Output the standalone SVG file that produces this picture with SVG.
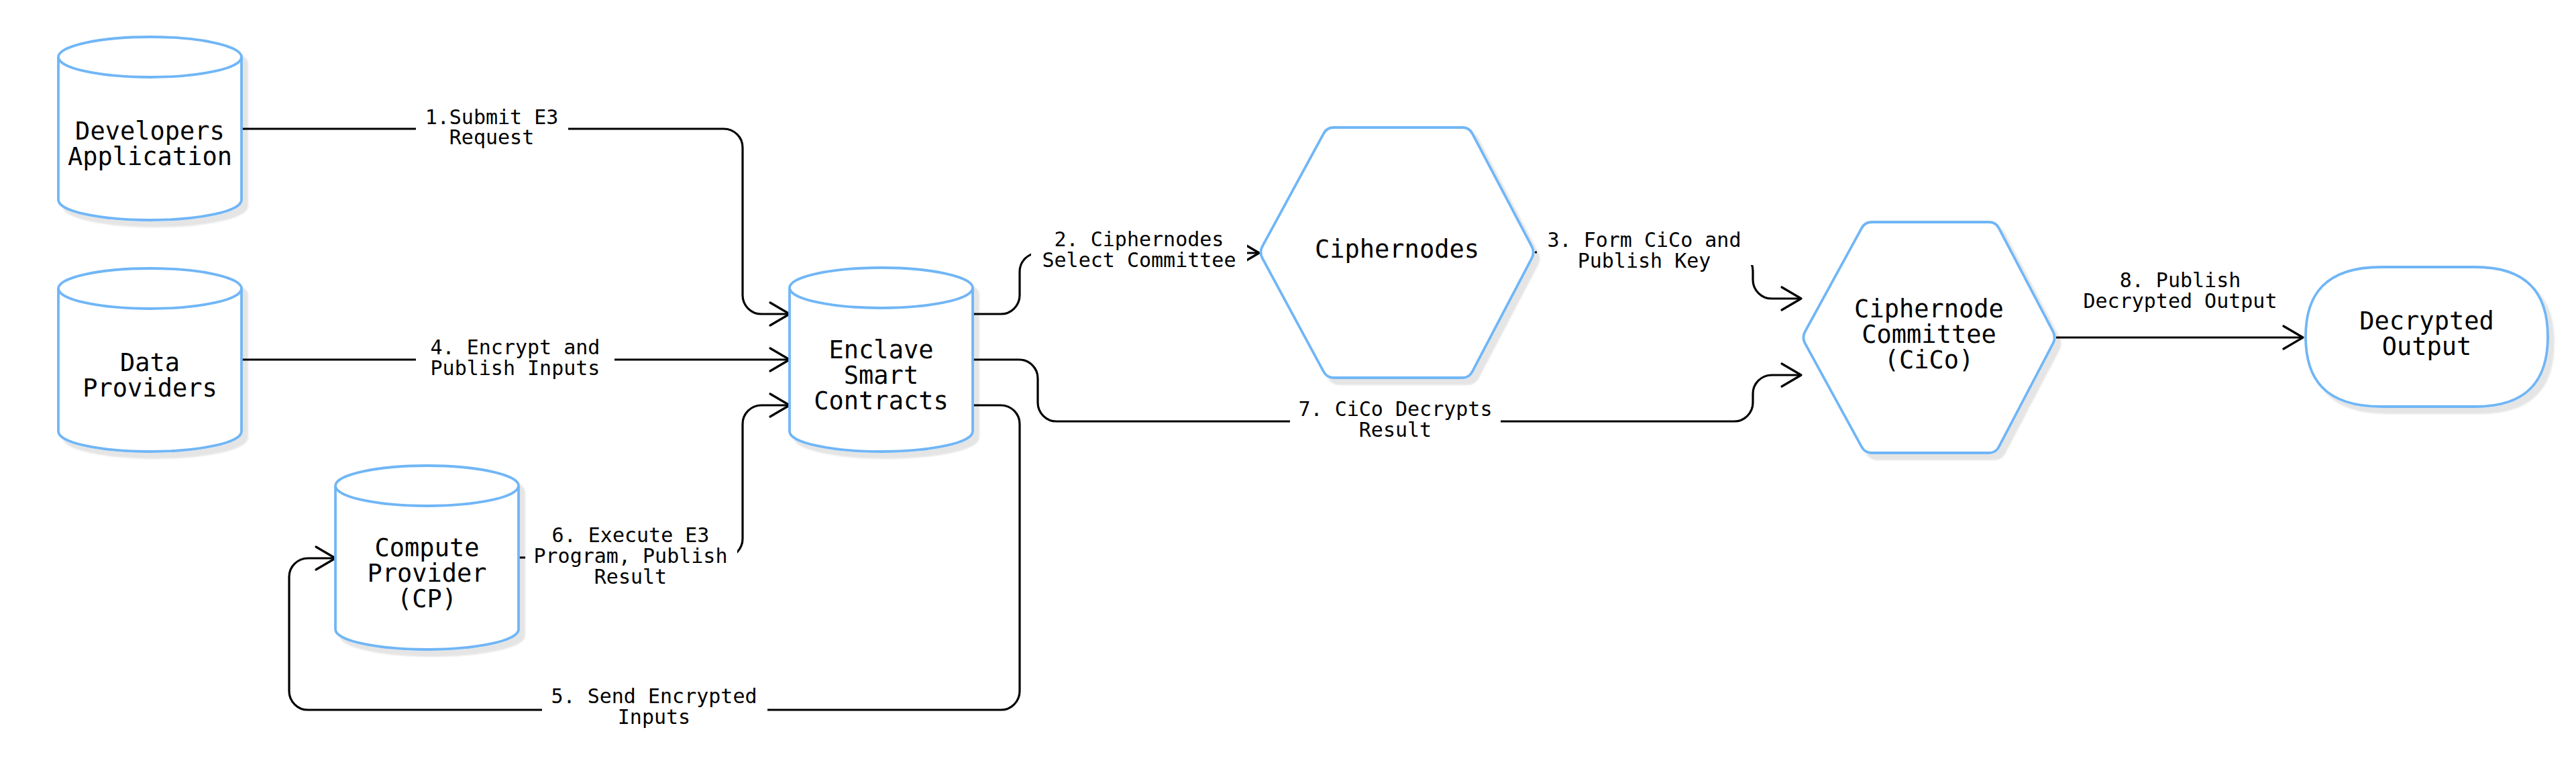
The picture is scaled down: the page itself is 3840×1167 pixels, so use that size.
<svg xmlns="http://www.w3.org/2000/svg" width="3840" height="1167" viewBox="0 0 3840 1167">
<style>
.shape{fill:#ffffff;stroke:#70b6f6;stroke-width:3.8;stroke-linejoin:round}
.sh{filter:url(#shadow)}
.ntxt{font-family:"DejaVu Sans Mono","Liberation Mono",monospace;font-size:37px;fill:#000;text-anchor:middle}
.ltxt{font-family:"DejaVu Sans Mono","Liberation Mono",monospace;font-size:30px;fill:#000;text-anchor:middle}
.edge{fill:none;stroke:#000;stroke-width:3.2;stroke-linejoin:round}
.arr{marker-end:url(#arrow)}
.lbg{fill:#ffffff}
</style>
<defs>
<filter id="shadow" x="-10%" y="-10%" width="130%" height="130%">
<feDropShadow dx="8" dy="9" stdDeviation="1.2" flood-color="#000" flood-opacity="0.1"/>
</filter>
<marker id="arrow" markerUnits="userSpaceOnUse" viewBox="-34 -22 40 44" markerWidth="40" markerHeight="44" refX="0" refY="0" orient="auto">
<path d="M-29,-17 L0,0 L-29,17" fill="none" stroke="#000" stroke-width="3.2" stroke-linecap="round" stroke-linejoin="round"/>
</marker>
</defs>
<rect width="3840" height="1167" fill="#ffffff"/>

<g id="connectors">
<path id="e1" class="edge arr" d="M360,192 H1079 A28,28 0 0 1 1107,220 V440 A28,28 0 0 0 1135,468 H1177"/>
<path id="e4" class="edge arr" d="M360,536 H1177"/>
<path id="e6" class="edge arr" d="M773,831 H1079 A28,28 0 0 0 1107,803 V632 A28,28 0 0 1 1135,604 H1177"/>
<path id="e5" class="edge arr" d="M1450,604 H1492 A28,28 0 0 1 1520,632 V1030 A28,28 0 0 1 1492,1058 H459 A28,28 0 0 1 431,1030 V860 A28,28 0 0 1 459,832 H500"/>
<path id="e2" class="edge arr" d="M1450,468 H1492 A28,28 0 0 0 1520,440 V405 A28,28 0 0 1 1548,377 H1877"/>
<path id="e3" class="edge arr" d="M2288,376 H2585 A28,28 0 0 1 2613,404 V417 A28,28 0 0 0 2641,445 H2685"/>
<path id="e7" class="edge arr" d="M1450,536 H1519 A28,28 0 0 1 1547,564 V600 A28,28 0 0 0 1575,628 H2585 A28,28 0 0 0 2613,600 V587 A28,28 0 0 1 2641,559 H2685"/>
<path id="e8" class="edge arr" d="M3065,503 H3433"/>

<g id="labels">
<rect class="lbg" x="620" y="159" width="227" height="63"/>
<text class="ltxt"><tspan x="733" y="185">1.Submit E3</tspan><tspan x="733" y="215">Request</tspan></text>
<rect class="lbg" x="620" y="502" width="296" height="64"/>
<text class="ltxt"><tspan x="768" y="528">4. Encrypt and</tspan><tspan x="768" y="559">Publish Inputs</tspan></text>
<rect class="lbg" x="783" y="782" width="316" height="96"/>
<text class="ltxt"><tspan x="940" y="808">6. Execute E3</tspan><tspan x="940" y="839">Program, Publish</tspan><tspan x="940" y="870">Result</tspan></text>
<rect class="lbg" x="808" y="1022" width="336" height="65"/>
<text class="ltxt"><tspan x="975" y="1048">5. Send Encrypted</tspan><tspan x="975" y="1079">Inputs</tspan></text>
<rect class="lbg" x="1537" y="341" width="322" height="65"/>
<text class="ltxt"><tspan x="1698" y="367">2. Ciphernodes</tspan><tspan x="1698" y="398">Select Committee</tspan></text>
<rect class="lbg" x="2291" y="342" width="323" height="53"/>
<text class="ltxt"><tspan x="2451" y="368">3. Form CiCo and</tspan><tspan x="2451" y="399">Publish Key</tspan></text>
<rect class="lbg" x="1923" y="594" width="314" height="64"/>
<text class="ltxt"><tspan x="2080" y="620">7. CiCo Decrypts</tspan><tspan x="2080" y="651">Result</tspan></text>
<text class="ltxt"><tspan x="3250" y="428">8. Publish</tspan><tspan x="3250" y="459">Decrypted Output</tspan></text>
</g>
</g>

<g id="developers">
<g class="sh"><path class="shape" d="M87,85 L87,298 A136.5,30 0 0 0 360,298 L360,85 A136.5,30 0 0 0 87,85 Z"/></g>
<path class="shape" style="fill:none" d="M87,85 A136.5,30 0 0 0 360,85"/>
<text class="ntxt"><tspan x="223.5" y="207.5">Developers</tspan><tspan x="223.5" y="245.5">Application</tspan></text>
</g>

<g id="data-providers">
<g class="sh"><path class="shape" d="M87,430 L87,643 A136.5,30 0 0 0 360,643 L360,430 A136.5,30 0 0 0 87,430 Z"/></g>
<path class="shape" style="fill:none" d="M87,430 A136.5,30 0 0 0 360,430"/>
<text class="ntxt"><tspan x="223.5" y="553">Data</tspan><tspan x="223.5" y="591">Providers</tspan></text>
</g>

<g id="enclave">
<g class="sh"><path class="shape" d="M1177,429 L1177,643 A136.5,30 0 0 0 1450,643 L1450,429 A136.5,30 0 0 0 1177,429 Z"/></g>
<path class="shape" style="fill:none" d="M1177,429 A136.5,30 0 0 0 1450,429"/>
<text class="ntxt"><tspan x="1313.5" y="533.5">Enclave</tspan><tspan x="1313.5" y="571.5">Smart</tspan><tspan x="1313.5" y="609.5">Contracts</tspan></text>
</g>

<g id="compute-provider">
<g class="sh"><path class="shape" d="M500,724 L500,938 A136.5,30 0 0 0 773,938 L773,724 A136.5,30 0 0 0 500,724 Z"/></g>
<path class="shape" style="fill:none" d="M500,724 A136.5,30 0 0 0 773,724"/>
<text class="ntxt"><tspan x="636.5" y="828.5">Compute</tspan><tspan x="636.5" y="866.5">Provider</tspan><tspan x="636.5" y="904.5">(CP)</tspan></text>
</g>

<g id="ciphernodes">
<g class="sh"><path class="shape" d="M1881.8,367.2 L1973.2,198.8 Q1978,190 1988,190 L2180,190 Q2190,190 2194.7,198.9 L2283.3,367.2 Q2288,376 2283.4,384.9 L2194.6,554.1 Q2190,563 2180,563 L1988,563 Q1978,563 1973.2,554.2 L1881.8,384.8 Q1877,376 1881.8,367.2 Z"/></g>
<text class="ntxt" x="2082.5" y="383.5">Ciphernodes</text>
</g>

<g id="cico">
<g class="sh"><path class="shape" d="M2690.8,494.2 L2775.2,339.8 Q2780,331 2790,331 L2965,331 Q2975,331 2979.6,339.9 L3060.4,494.1 Q3065,503 3060.4,511.9 L2979.6,666.1 Q2975,675 2965,675 L2790,675 Q2780,675 2775.2,666.2 L2690.8,511.8 Q2686,503 2690.8,494.2 Z"/></g>
<text class="ntxt"><tspan x="2875.5" y="472.5">Ciphernode</tspan><tspan x="2875.5" y="510.5">Committee</tspan><tspan x="2875.5" y="548.5">(CiCo)</tspan></text>
</g>

<g id="decrypted-output">
<g class="sh"><path class="shape" d="M3550,398 L3690,398 C3770,398 3798,440 3798,502 C3798,564 3770,606 3690,606 L3550,606 C3465,606 3437,564 3437,502 C3437,440 3465,398 3550,398 Z"/></g>
<text class="ntxt"><tspan x="3617.5" y="490.5">Decrypted</tspan><tspan x="3617.5" y="528.5">Output</tspan></text>
</g>
</svg>
